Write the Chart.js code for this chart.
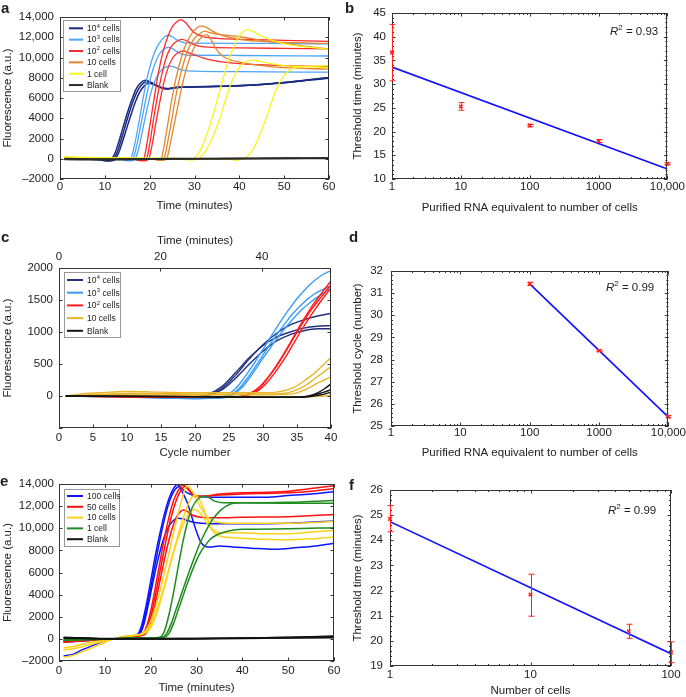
<!DOCTYPE html>
<html>
<head>
<meta charset="utf-8">
<script src="https://cdn.jsdelivr.net/npm/chart.js@4.4.1/dist/chart.umd.min.js"></script>
<style>
  body { margin: 0; background: #fff; }
  #wrap { position: relative; width: 686px; height: 697px; overflow: hidden; font-family: "Liberation Sans", Arial, sans-serif; color: #222; }
  #wrap canvas { position: absolute; left: 0; top: 0; }
  .lt { position: absolute; font-weight: bold; font-size: 15px; line-height: 15px; }
  .r2 { position: absolute; font-size: 11.5px; line-height: 11.5px; white-space: nowrap; }
  .r2 sup { font-size: 8px; line-height: 0; }
</style>
</head>
<body>
<div id="wrap">
  <canvas id="pa" width="686" height="697"></canvas>
  <canvas id="pb" width="686" height="697"></canvas>
  <canvas id="pc" width="686" height="697"></canvas>
  <canvas id="pd" width="686" height="697"></canvas>
  <canvas id="pe" width="686" height="697"></canvas>
  <canvas id="pf" width="686" height="697"></canvas>
  <div class="lt" style="left:1px;top:0px">a</div>
  <div class="lt" style="left:345px;top:0px">b</div>
  <div class="lt" style="left:1px;top:229px">c</div>
  <div class="lt" style="left:349px;top:229px">d</div>
  <div class="lt" style="left:0px;top:473px">e</div>
  <div class="lt" style="left:349px;top:477px">f</div>
  <div class="r2" style="left:610px;top:26px"><i>R</i><sup>2</sup> = 0.93</div>
  <div class="r2" style="left:606px;top:282px"><i>R</i><sup>2</sup> = 0.99</div>
  <div class="r2" style="left:608px;top:505px"><i>R</i><sup>2</sup> = 0.99</div>
</div>
<script>
// ---------- panel a : fluorescence vs time (minutes) ----------
const aXTicks = [0, 10, 20, 30, 40, 50, 60];
const aYTicks = [-2000, 0, 2000, 4000, 6000, 8000, 10000, 12000, 14000];
const aNavy = [
  [[1,0],[6,-30],[9,-100],[10,-200],[11,-150],[11.6,50],[12.3,600],[13,1500],[14,3000],[15,4500],[16,5800],[17,6900],[18,7500],[19,7750],[20,7600],[21,7400],[22,7150],[23,6950],[24,6900],[25,7000],[28,7080],[35,7150],[42,7250],[47,7400],[52,7600],[56,7800],[60,8000]],
  [[1,0],[6,-30],[9.5,-100],[10.5,-200],[11.5,-150],[12,50],[12.7,600],[13.4,1500],[14.4,3000],[15.4,4500],[16.4,5800],[17.4,6800],[18.4,7400],[19.4,7600],[20.4,7450],[21.4,7250],[22.4,7050],[23.4,6950],[24.5,6950],[26,7050],[30,7100],[37,7150],[44,7300],[50,7500],[55,7750],[60,7950]],
  [[1,0],[6,-30],[10,-100],[11,-200],[12,-150],[12.4,50],[13.1,600],[13.8,1500],[14.8,2900],[15.8,4300],[16.8,5600],[17.8,6600],[18.8,7200],[19.8,7450],[20.8,7350],[21.8,7150],[22.8,7000],[24,6900],[25,6950],[27,7050],[32,7100],[38,7180],[45,7330],[50,7520],[55,7780],[60,8020]]
];
const aLightBlue = [
  [[1,50],[13,0],[14,-100],[15,-200],[15.8,0],[16.7,1500],[17.6,3600],[18.6,6100],[19.6,8300],[20.6,9900],[21.6,11000],[22.6,11700],[23.5,12100],[24.2,12200],[25,12050],[26,11750],[27,11550],[29,11420],[40,11400],[50,11380],[60,11350]],
  [[1,50],[13.5,0],[14.5,-100],[15.5,-200],[16.3,0],[17.2,1500],[18.1,3500],[19.1,5800],[20.1,7800],[21.1,9300],[22.1,10300],[23.1,10800],[24.2,11000],[25,10900],[26,10600],[27,10350],[29,10220],[40,10200],[60,10150]],
  [[1,50],[14,0],[15,-100],[16,-200],[16.8,0],[17.7,1300],[18.6,3200],[19.6,5300],[20.6,7000],[21.6,8100],[22.6,8750],[23.6,9050],[24.6,9150],[25.6,9050],[26.6,8850],[28,8700],[30,8650],[40,8600],[60,8550]]
];
const aRed = [
  [[1,50],[16,0],[17,-100],[18,-200],[18.7,0],[19.5,1800],[20.3,4000],[21.2,6500],[22,8600],[23,10600],[24,12000],[25,13000],[26,13500],[26.9,13750],[28,13450],[29,12900],[30,12450],[32,12050],[35,11880],[40,11800],[50,11700],[60,11600]],
  [[1,50],[16.5,0],[17.5,-100],[18.5,-200],[19.3,0],[20.1,1700],[20.9,4000],[21.8,6300],[22.7,8300],[23.7,10000],[24.7,11000],[25.7,11500],[27.2,11800],[28.5,11600],[30,11250],[32,11050],[40,10950],[50,10900],[60,10850]],
  [[1,50],[17,0],[18,-100],[19,-200],[19.8,0],[20.6,1500],[21.4,3600],[22.3,5700],[23.2,7600],[24.2,9100],[25.2,10000],[26.2,10450],[27.5,10650],[28.5,10500],[30,10250],[32,9950],[35,9650],[40,9400],[50,9200],[60,9100]]
];
const aOrange = [
  [[1,50],[20,0],[21,-60],[22,-150],[22.6,0],[23.3,1500],[24.1,3600],[25,6000],[26,8200],[27,9900],[28,11200],[29,12100],[30,12700],[31.3,13100],[32.5,13000],[34,12600],[36,12200],[40,11800],[45,11600],[50,11500],[60,11400]],
  [[1,50],[20.5,0],[21.5,-60],[22.5,-150],[23.2,0],[24,1600],[24.9,3800],[25.8,6100],[26.8,8200],[27.8,9800],[28.8,11000],[29.8,11800],[31,12300],[32.3,12600],[33.5,12450],[35,12300],[40,12050],[45,11700],[50,11400],[55,11100],[60,10850]],
  [[1,50],[21,0],[22,-60],[23,-150],[23.8,0],[24.6,1500],[25.6,3700],[26.6,5900],[27.6,7900],[28.6,9500],[29.6,10700],[30.6,11500],[31.6,12000],[32.7,12250],[33.5,11900],[34.5,11100],[35.5,10450],[37,9950],[40,9550],[45,9200],[50,9000],[60,8850]]
];
const aYellow = [
  [[1,150],[10,80],[20,40],[27,0],[28.5,-120],[29.8,0],[30.5,300],[31.5,1000],[32.5,2100],[33.5,3400],[34.5,4900],[35.5,6500],[36.5,8100],[37.5,9600],[38.5,10800],[39.5,11800],[40.5,12400],[41.8,12750],[43,12600],[45,12100],[48,11600],[52,11200],[56,11000],[60,10800]],
  [[1,150],[10,80],[20,40],[28,0],[29.5,-120],[30.8,0],[31.5,250],[32.5,800],[33.5,1600],[34.5,2600],[35.5,3800],[36.5,5200],[37.5,6600],[38.5,7800],[39.5,8700],[40.5,9300],[42.8,9750],[44.5,9650],[47,9400],[50,9200],[55,9100],[60,9000]],
  [[1,150],[10,80],[20,40],[30,0],[38,-50],[39.5,-150],[40.8,0],[41.5,150],[42.5,600],[43.5,1300],[44.5,2300],[45.5,3400],[46.5,4700],[47.5,6000],[48.5,7100],[49.5,7900],[50.5,8500],[51.8,8900],[54,9100],[57,9150],[60,9200]]
];
const aBlank = [
  [[1,-80],[10,-100],[20,-50],[30,-20],[40,0],[50,20],[60,40]],
  [[1,-30],[10,-60],[20,-30],[30,0],[40,20],[50,40],[60,60]],
  [[1,20],[10,-20],[20,0],[30,20],[40,40],[50,60],[60,80]]
];

// ---------- panel b : threshold time vs purified RNA ----------
const bCells = [1, 10, 100, 1000, 10000];
const bTime = [36.7, 25.3, 21.3, 18.0, 13.2];
const bLow = [30.7, 24.5, 21.0, 17.7, 13.0];
const bHigh = [42.6, 26.1, 21.5, 18.3, 13.4];
const bFitX = [1, 10000];
const bFitY = [33.6, 12.1];
const bXTicks = [1, 10, 100, 1000, 10000];
const bYTicks = [10, 15, 20, 25, 30, 35, 40, 45];

// ---------- panel c : fluorescence vs cycle number ----------
const cXTicks = [0, 5, 10, 15, 20, 25, 30, 35, 40];
const cTopTicks = [0, 20, 40];
const cYTicks = [-500, 0, 500, 1000, 1500, 2000];
const cNavy = [
  [[1,0],[10,0],[15,-20],[20,-20],[22,20],[24,120],[26,330],[28,580],[30,800],[32,980],[34,1110],[36,1190],[38,1250],[40,1290]],
  [[1,0],[10,10],[15,-20],[20,-10],[22,30],[24,150],[26,370],[28,600],[30,790],[32,920],[34,1000],[36,1060],[38,1090],[40,1100]],
  [[1,0],[10,0],[15,-20],[20,-25],[22,10],[24,100],[26,280],[28,500],[30,700],[32,860],[34,960],[36,1020],[38,1050],[40,1050]]
];
const cBlue = [
  [[1,0],[10,0],[15,-30],[20,-40],[23,-30],[24.5,0],[26,120],[27,250],[28,400],[29,560],[30,730],[31,900],[32,1070],[33,1230],[34,1380],[35,1520],[36,1640],[37,1750],[38,1840],[39,1910],[40,1960]],
  [[1,0],[15,-30],[20,-40],[23.5,-30],[25,0],[26.5,120],[27.5,250],[28.5,400],[29.5,560],[30.5,720],[31.5,880],[32.5,1030],[33.5,1170],[34.5,1300],[35.5,1410],[36.5,1510],[37.5,1590],[38.5,1650],[40,1720]],
  [[1,0],[15,-30],[20,-40],[24,-30],[25.3,0],[26.8,120],[27.8,250],[28.8,400],[29.8,560],[30.8,710],[31.8,860],[32.8,1000],[33.8,1130],[34.8,1250],[35.8,1360],[36.8,1450],[37.8,1530],[38.8,1600],[40,1680]]
];
const cRed = [
  [[1,0],[20,-20],[25,-20],[27,0],[28,40],[29,100],[30,200],[31,330],[32,480],[33,650],[34,830],[35,1020],[36,1200],[37,1370],[38,1520],[39,1660],[40,1800]],
  [[1,0],[20,-20],[25,-20],[27.5,0],[28.5,40],[29.5,100],[30.5,200],[31.5,330],[32.5,480],[33.5,640],[34.5,820],[35.5,1000],[36.5,1170],[37.5,1330],[38.5,1480],[39.5,1620],[40,1690]],
  [[1,0],[20,-20],[25,-20],[27.2,0],[28.2,40],[29.2,100],[30.2,210],[31.2,350],[32.2,500],[33.2,670],[34.2,850],[35.2,1030],[36.2,1200],[37.2,1360],[38.2,1500],[39.2,1630],[40,1740]]
];
const cGold = [
  [[1,0],[3,30],[6,50],[10,70],[15,60],[20,50],[25,50],[30,50],[32,60],[34,110],[35,160],[36,230],[37,310],[38,400],[39,500],[40,600]],
  [[1,0],[5,20],[10,40],[15,40],[20,30],[25,30],[30,30],[33,40],[34,60],[35,100],[36,150],[37,220],[38,300],[39,380],[40,460]],
  [[1,0],[5,10],[10,30],[15,30],[20,20],[25,20],[30,20],[34,30],[35,50],[36,90],[37,140],[38,200],[39,250],[40,300]],
  [[1,0],[10,10],[20,0],[26,-10],[30,-15],[35,-15],[38,-5],[40,10]]
];
const cBlack = [
  [[1,0],[20,-10],[30,-20],[34,-20],[36,-10],[37,10],[38,50],[39,110],[40,190]],
  [[1,0],[20,-10],[30,-20],[35,-20],[37,0],[38,30],[39,60],[40,100]],
  [[1,0],[20,-10],[30,-20],[35,-20],[37,-10],[38,10],[39,30],[40,60]]
];

// ---------- panel d : threshold cycle vs purified RNA ----------
const dCells = [100, 1000, 10000];
const dCycle = [31.42, 28.4, 25.42];
const dLow = [31.35, 28.37, 25.37];
const dHigh = [31.49, 28.43, 25.47];
const dFitX = [100, 10000];
const dFitY = [31.42, 25.4];
const dXTicks = [1, 10, 100, 1000, 10000];
const dYTicks = [25, 26, 27, 28, 29, 30, 31, 32];

// ---------- panel e : fluorescence vs time, cells ----------
const eXTicks = [0, 10, 20, 30, 40, 50, 60];
const eYTicks = [-2000, 0, 2000, 4000, 6000, 8000, 10000, 12000, 14000];
const eBlue = [
  [[1,-300],[5,-200],[10,-50],[12,0],[15,200],[17,350],[18,1200],[19,3000],[20,5200],[21,7500],[22,9500],[23,11300],[24,12700],[25,13600],[25.8,13950],[27,13500],[28,13200],[30,12900],[35,12800],[40,12800],[45,12800],[50,12950],[55,13100],[60,13300]],
  [[1,-200],[5,-150],[10,-50],[12,0],[15,250],[17.5,350],[18.5,1300],[19.5,3100],[20.5,5100],[21.5,7000],[22.5,8600],[23.5,9800],[24.5,10500],[26,10900],[27,10850],[28,10700],[30,10500],[35,10400],[40,10400],[50,10450],[60,10650]],
  [[1,-1550],[3,-1400],[5,-1000],[8,-500],[10,-200],[12,0],[15,200],[17,300],[18,900],[19,2500],[20,4600],[21,6800],[22,8900],[23,10800],[24,12300],[25,13300],[26.2,13750],[27,13200],[28,12300],[29,11000],[30,9700],[31,8700],[32,8350],[33,8300],[35,8400],[38,8300],[42,8200],[47,8100],[52,8250],[56,8400],[60,8650]]
];
const eRed = [
  [[1,-200],[10,-50],[12,0],[15,200],[18,350],[19,1000],[20,2500],[21,4600],[22,6900],[23,9100],[24,11000],[25,12500],[26,13400],[27,13900],[28,13600],[29,13100],[30,12900],[32,12900],[35,13100],[40,13200],[45,13250],[50,13350],[55,13600],[60,13850]],
  [[1,-300],[10,-50],[12,0],[15,200],[18.3,350],[19.3,1000],[20.3,2500],[21.3,4500],[22.3,6700],[23.3,8800],[24.3,10700],[25.3,12200],[26.3,13200],[27.5,13800],[28.5,13400],[29.5,13000],[31,12900],[35,13000],[40,13100],[45,13150],[50,13200],[55,13350],[60,13600]],
  [[1,-250],[10,-50],[12,0],[15,200],[18.5,350],[19.5,900],[20.5,2300],[21.5,4200],[22.5,6200],[23.5,8100],[24.5,9700],[25.5,10900],[26.5,11500],[27.2,11650],[28,11500],[29,11200],[31,11000],[35,10950],[40,11000],[50,11050],[60,11250]]
];
const eYellow = [
  [[1,-800],[3,-700],[6,-400],[10,-100],[12,0],[15,250],[18,450],[19,800],[20,1600],[21,2800],[22,4300],[23,6000],[24,7800],[25,9600],[26,11300],[27,12900],[28,13850],[29,13400],[30,12600],[31,11800],[32,11200],[33,10800],[35,10500],[40,10450],[50,10450],[60,10600]],
  [[1,-1650],[3,-1500],[6,-1000],[9,-500],[12,0],[15,250],[18,450],[19.5,900],[20.5,1700],[21.5,2800],[22.5,4100],[23.5,5600],[24.5,7100],[25.5,8500],[26.5,9700],[27.5,10700],[28.5,11400],[29.5,11700],[30.5,11500],[31.5,11000],[32.5,10300],[33.5,9900],[35,9600],[40,9600],[45,9500],[50,9500],[55,9650],[60,9800]],
  [[1,-1000],[3,-900],[6,-600],[9,-300],[12,0],[15,250],[18.5,450],[20,1000],[21,1900],[22,3200],[23,4700],[24,6300],[25,7900],[26,9400],[27,10800],[28,12000],[29,12800],[29.8,13000],[30.5,12700],[31.5,11800],[32.5,10700],[33.5,9800],[35,9300],[40,9100],[45,9000],[50,8950],[55,9050],[60,9200]]
];
const eGreen = [
  [[1,-100],[10,-30],[12,0],[15,80],[20,100],[22,150],[23,700],[24,2200],[25,4200],[26,6500],[27,8700],[28,10500],[29,11800],[30,12500],[31,12850],[32,12900],[33,12700],[34,12450],[36,12300],[40,12300],[50,12350],[60,12500]],
  [[1,-50],[10,-20],[12,0],[15,80],[20,100],[22.5,150],[23.5,500],[24.5,1400],[25.5,2600],[26.5,3800],[27.5,5000],[28.5,6200],[29.5,7300],[30.5,8400],[31.5,9300],[32.5,10100],[33.5,10800],[34.5,11300],[35.5,11700],[36.5,12000],[38,12250],[40,12300],[50,12250],[60,12250]],
  [[1,-150],[10,-30],[12,0],[15,80],[20,100],[23,150],[24,500],[25,1400],[26,2600],[27,3800],[28,5000],[29,6100],[30,7100],[31,7900],[32,8500],[33,9000],[34,9300],[35,9500],[37,9750],[40,9900],[50,9950],[60,10050]]
];
const eBlack = [
  [[1,100],[12,0],[20,0],[30,30],[40,80],[50,120],[60,200]],
  [[1,50],[12,0],[30,0],[45,50],[60,100]],
  [[1,150],[12,20],[30,30],[45,100],[60,250]]
];

// ---------- panel f : threshold time vs number of cells ----------
const fCells = [1, 10, 50, 100];
const fTime = [24.85, 21.84, 20.38, 19.54];
const fLow = [24.34, 20.98, 20.10, 19.13];
const fHigh = [25.38, 22.65, 20.66, 19.96];
const fFitX = [1, 100];
const fFitY = [24.74, 19.49];
const fXTicks = [1, 10, 100];
const fYTicks = [19, 20, 21, 22, 23, 24, 25, 26];

// ---------- helpers ----------
const FONT = '"Liberation Sans", Arial, Helvetica, sans-serif';
Chart.defaults.font.family = FONT;
Chart.defaults.color = '#222';

function fmt(v) {
  if (v < 0) return '\u2013' + Math.abs(v);
  return v >= 10000 ? v.toLocaleString('en-US') : String(v);
}

function axis(pos, min, max, ticks, title, size, pad, opts = {}) {
  return {
    type: opts.type || 'linear',
    position: pos,
    min: min, max: max,
    afterBuildTicks: s => { s.ticks = ticks.map(v => ({ value: v })); },
    afterFit: s => { if (pos === 'left') s.width = size; else s.height = size; },
    grid: { display: false, drawTicks: false },
    border: { display: false },
    ticks: {
      autoSkip: false, maxRotation: 0, padding: pad, color: '#222',
      font: { size: 11.5 },
      callback: opts.label || (v => fmt(v))
    },
    title: { display: !!title, text: title, padding: 0, color: '#222', font: { size: 11.5, lineHeight: 1 } }
  };
}

function curveSets(groups) {
  const out = [];
  groups.forEach((g, gi) => {
    g.data.forEach(c => out.push({
      data: c, borderColor: g.color, borderWidth: g.width || 1.3,
      pointRadius: 0, fill: false, cubicInterpolationMode: 'monotone',
      order: groups.length - gi
    }));
  });
  return out;
}

function minorLog(maxv) {
  const m = [];
  for (let d = 1; d < maxv; d *= 10) for (let k = 2; k <= 9; k++) m.push(d * k);
  return m;
}
function minorLin(a, b, step) {
  const m = [];
  for (let v = a; v <= b + 1e-9; v += step) m.push(+v.toFixed(3));
  return m;
}

// box frame with inward tick marks (MATLAB style)
const frameTicks = {
  id: 'frameTicks',
  afterDatasetsDraw(chart, args, o) {
    const { ctx, chartArea: a } = chart;
    const sx = chart.scales.x, sy = chart.scales.y, s2 = chart.scales.x2;
    ctx.save();
    ctx.strokeStyle = '#333';
    ctx.lineWidth = 1;
    ctx.strokeRect(Math.round(a.left) + 0.5, Math.round(a.top) + 0.5, Math.round(a.right - a.left) - 1, Math.round(a.bottom - a.top) - 1);
    ctx.beginPath();
    const vx = (v, L, top, bot) => {
      const p = Math.round(sx.getPixelForValue(v)) + 0.5;
      if (bot) { ctx.moveTo(p, a.bottom); ctx.lineTo(p, a.bottom - L); }
      if (top) { ctx.moveTo(p, a.top); ctx.lineTo(p, a.top + L); }
    };
    const vy = (v, L) => {
      const p = Math.round(sy.getPixelForValue(v)) + 0.5;
      ctx.moveTo(a.left, p); ctx.lineTo(a.left + L, p);
      ctx.moveTo(a.right, p); ctx.lineTo(a.right - L, p);
    };
    sx.ticks.forEach(t => vx(t.value, 3.5, !s2, true));
    if (s2) s2.ticks.forEach(t => {
      const p = Math.round(s2.getPixelForValue(t.value)) + 0.5;
      ctx.moveTo(p, a.top); ctx.lineTo(p, a.top + 3.5);
    });
    sy.ticks.forEach(t => vy(t.value, 3.5));
    (o.xMinor || []).forEach(v => vx(v, 2, true, true));
    (o.yMinor || []).forEach(v => vy(v, 2));
    ctx.stroke();
    ctx.restore();
  }
};

// vertical error bars with caps
const errBars = {
  id: 'errBars',
  afterDatasetsDraw(chart) {
    const { ctx } = chart;
    const sy = chart.scales.y;
    chart.data.datasets.forEach((ds, i) => {
      if (!ds.errLow) return;
      const meta = chart.getDatasetMeta(i);
      ctx.save();
      ctx.strokeStyle = ds.borderColor;
      ctx.lineWidth = 1;
      ctx.beginPath();
      meta.data.forEach((el, j) => {
        const x = Math.round(el.x) + 0.5;
        const y1 = sy.getPixelForValue(ds.errLow[j]);
        const y2 = sy.getPixelForValue(ds.errHigh[j]);
        ctx.moveTo(x, y1); ctx.lineTo(x, y2);
        ctx.moveTo(x - 3, y1); ctx.lineTo(x + 3, y1);
        ctx.moveTo(x - 3, y2); ctx.lineTo(x + 3, y2);
      });
      ctx.stroke();
      ctx.restore();
    });
  }
};

// boxed legend inside the plot
function drawLabel(ctx, text, x, y, size) {
  const m = text.match(/^(\d+)\^(\d)(.*)$/);
  ctx.textBaseline = 'middle';
  ctx.font = size + 'px ' + FONT;
  if (!m) { ctx.fillText(text, x, y); return; }
  ctx.fillText(m[1], x, y);
  let w = ctx.measureText(m[1]).width + 0.3;
  ctx.font = (size * 0.68) + 'px ' + FONT;
  ctx.fillText(m[2], x + w, y - size * 0.33);
  w += ctx.measureText(m[2]).width + 0.3;
  ctx.font = size + 'px ' + FONT;
  ctx.fillText(m[3], x + w, y);
}
const boxLegend = {
  id: 'boxLegend',
  afterDraw(chart, args, o) {
    if (!o.items) return;
    const ctx = chart.ctx;
    ctx.save();
    ctx.fillStyle = '#fff';
    ctx.fillRect(o.x, o.y, o.w, o.h);
    ctx.strokeStyle = '#999';
    ctx.lineWidth = 1;
    ctx.strokeRect(o.x + 0.5, o.y + 0.5, o.w, o.h);
    o.items.forEach((it, i) => {
      const yy = o.first + i * o.step;
      ctx.strokeStyle = it[1];
      ctx.lineWidth = 2;
      ctx.beginPath(); ctx.moveTo(o.l0, yy); ctx.lineTo(o.l1, yy); ctx.stroke();
      ctx.fillStyle = '#222';
      drawLabel(ctx, it[0], o.tx, yy + 0.5, 8.5);
    });
    ctx.restore();
  }
};

function make(id, datasets, scales, padding, plug) {
  return new Chart(document.getElementById(id), {
    type: 'line',
    data: { datasets },
    options: {
      responsive: false, animation: false,
      layout: { padding },
      scales,
      plugins: Object.assign({ legend: { display: false }, tooltip: { enabled: false } }, plug)
    },
    plugins: [frameTicks, errBars, boxLegend]
  });
}

// ---------- panel a ----------
const aCol = { navy: '#1b2b82', lb: '#4ea6fb', red: '#ff2a2a', orange: '#e5862c', yellow: '#f9f61a', blank: '#2a2a2a' };
make('pa', curveSets([
  { data: aNavy, color: aCol.navy, width: 1.5 },
  { data: aLightBlue, color: aCol.lb },
  { data: aRed, color: aCol.red },
  { data: aOrange, color: aCol.orange },
  { data: aYellow, color: aCol.yellow },
  { data: aBlank, color: aCol.blank, width: 1.6 }
]), {
  x: axis('bottom', 0, 60, aXTicks, 'Time (minutes)', 33, 1),
  y: axis('left', -2000, 14000, aYTicks, 'Fluorescence (a.u.)', 58, 6)
}, { left: 2, top: 17, right: 357, bottom: 485 }, {
  frameTicks: {},
  boxLegend: {
    x: 63, y: 20, w: 57, h: 71, first: 28.3, step: 11.35, l0: 69, l1: 83, tx: 87,
    items: [['10^4 cells', aCol.navy], ['10^3 cells', aCol.lb], ['10^2 cells', aCol.red],
            ['10 cells', aCol.orange], ['1 cell', aCol.yellow], ['Blank', aCol.blank]]
  }
});

// ---------- scatter + fit panels ----------
function fitPanel(id, cells, vals, lo, hi, fx, fy, xMax, xTicks, yMin, yMax, yTicks, yTitle, xTitle, pads, yW, xH, yPad, xPad, yMinorStep) {
  const pts = cells.map((c, i) => [c, vals[i]]);
  const fit = fx.map((c, i) => [c, fy[i]]);
  return make(id, [
    { data: pts, borderColor: '#ff2020', backgroundColor: '#ff2020', showLine: false,
      pointStyle: 'crossRot', pointRadius: 2.5, borderWidth: 1.5, errLow: lo, errHigh: hi, clip: 8, order: 0 },
    { data: fit, borderColor: '#1010ff', borderWidth: 1.6, pointRadius: 0, order: 1 }
  ], {
    x: axis('bottom', 1, xMax, xTicks, xTitle, xH, xPad, { type: 'logarithmic', label: v => fmt(v) }),
    y: axis('left', yMin, yMax, yTicks, yTitle, yW, yPad)
  }, pads, {
    frameTicks: { xMinor: minorLog(xMax), yMinor: minorLin(yMin, yMax, yMinorStep) }
  });
}

fitPanel('pb', bCells, bTime, bLow, bHigh, bFitX, bFitY, 10000, bXTicks, 10, 45, bYTicks,
  'Threshold time (minutes)', 'Purified RNA equivalent to number of cells',
  { left: 352, top: 13, right: 17, bottom: 483 }, 40, 35, 6, 1, 1);

fitPanel('pd', dCells, dCycle, dLow, dHigh, dFitX, dFitY, 10000, dXTicks, 25, 32, dYTicks,
  'Threshold cycle (number)', 'Purified RNA equivalent to number of cells',
  { left: 352, top: 271, right: 17, bottom: 238 }, 39, 33, 8, 0, 0.2);

fitPanel('pf', fCells, fTime, fLow, fHigh, fFitX, fFitY, 100, fXTicks, 19, 26, fYTicks,
  'Threshold time (minutes)', 'Number of cells',
  { left: 352, top: 490, right: 15, bottom: 0 }, 38, 31, 7, 2, 0.2);

// ---------- panel c ----------
const cCol = { navy: '#22307e', blue: '#3a9cf6', red: '#ff1c1c', gold: '#e9b52a', black: '#151515' };
make('pc', curveSets([
  { data: cNavy, color: cCol.navy, width: 1.4 },
  { data: cBlue, color: cCol.blue, width: 1.4 },
  { data: cRed, color: cCol.red, width: 1.4 },
  { data: cGold, color: cCol.gold, width: 1.4 },
  { data: cBlack, color: cCol.black, width: 1.4 }
]), {
  x: axis('bottom', 0, 40, cXTicks, 'Cycle number', 31, 3),
  x2: axis('top', 0, 53.6, cTopTicks, 'Time (minutes)', 33, 4),
  y: axis('left', -500, 2000, cYTicks, 'Fluorescence (a.u.)', 57, 6, { label: v => (v < 0 ? '' : String(v)) })
}, { left: 2, top: 235, right: 355, bottom: 238 }, {
  frameTicks: {},
  boxLegend: {
    x: 64, y: 272, w: 56, h: 65, first: 280, step: 12.7, l0: 67, l1: 83, tx: 87,
    items: [['10^4 cells', cCol.navy], ['10^3 cells', cCol.blue], ['10^2 cells', cCol.red],
            ['10 cells', cCol.gold], ['Blank', cCol.black]]
  }
});

// ---------- panel e ----------
const eCol = { blue: '#0a14ff', red: '#ff1010', yellow: '#ffd21a', green: '#1f8c1f', black: '#111' };
make('pe', curveSets([
  { data: eBlue, color: eCol.blue, width: 1.5 },
  { data: eRed, color: eCol.red, width: 1.5 },
  { data: eYellow, color: eCol.yellow, width: 1.5 },
  { data: eGreen, color: eCol.green, width: 1.5 },
  { data: eBlack, color: eCol.black, width: 1.6 }
]), {
  x: axis('bottom', 0, 60, eXTicks, 'Time (minutes)', 33, 3),
  y: axis('left', -2000, 14000, eYTicks, 'Fluorescence (a.u.)', 57, 5)
}, { left: 2, top: 484, right: 352, bottom: 3 }, {
  frameTicks: {},
  boxLegend: {
    x: 64, y: 489, w: 55, h: 57, first: 496, step: 10.8, l0: 67, l1: 83, tx: 87,
    items: [['100 cells', eCol.blue], ['50 cells', eCol.red], ['10 cells', eCol.yellow],
            ['1 cell', eCol.green], ['Blank', eCol.black]]
  }
});
</script>
</body>
</html>
